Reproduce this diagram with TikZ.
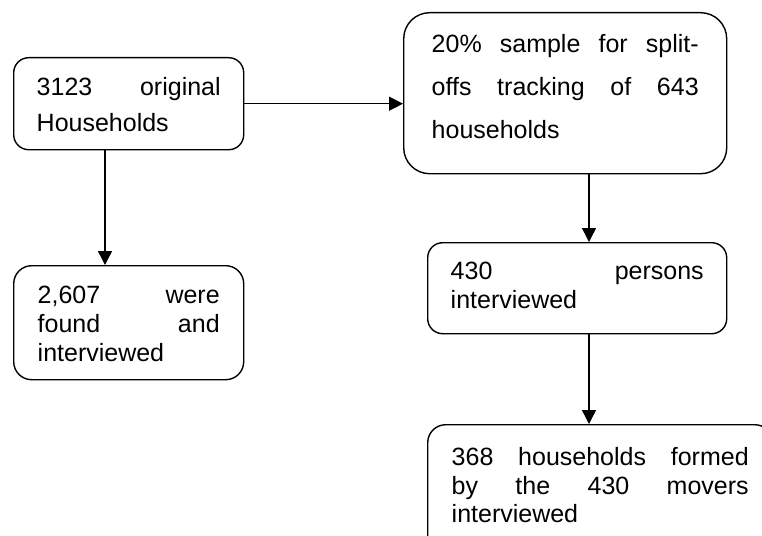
\documentclass[tikz,border=0pt]{standalone}
\usepackage{fontspec}
\setmainfont{Liberation Sans}
\usetikzlibrary{arrows.meta}

% fixed-size text block: width, height, top gap, text
\newcommand{\boxtext}[4]{\parbox[c][#2][t]{#1}{\vspace*{#3}#4}}

\begin{document}
\begin{tikzpicture}[x=1pt,y=-1pt,
  box/.style={draw, line width=1.4pt, anchor=north west, inner xsep=23pt, inner ysep=0pt,
    font=\fontsize{25}{29}\selectfont},
  flow/.style={-{Triangle[length=14pt,width=14pt]}, line width=1.4pt}]
  \useasboundingbox (0,0) rectangle (762,535);
  \clip (0,0) rectangle (762,535);

  \node[box, rounded corners=15pt, font=\fontsize{25}{36}\selectfont] (orig) at (13,57)
    {\boxtext{184pt}{92pt}{20pt}{3123 original\linebreak Households}};
  \node[box, rounded corners=26pt, inner xsep=28pt, font=\fontsize{25}{43}\selectfont] (split) at (403,12)
    {\boxtext{267pt}{161pt}{22pt}{20\% sample for split-\linebreak offs tracking of 643\linebreak households}};
  \node[box, rounded corners=18pt, inner xsep=24pt] (found) at (13,265)
    {\boxtext{182pt}{114pt}{20pt}{2,607 were\linebreak found and\linebreak interviewed}};
  \node[box, rounded corners=15pt] (pers) at (427,242)
    {\boxtext{253pt}{91pt}{19pt}{430 persons\linebreak interviewed}};
  \node[box, rounded corners=18pt, inner xsep=24pt, font=\fontsize{25}{28.5}\selectfont] (hh) at (427,424)
    {\boxtext{297pt}{140pt}{23pt}{368 households formed\linebreak by the 430 movers\linebreak interviewed}};

  % arrow columns
  \coordinate (lcol) at (105,0);
  \coordinate (rcol) at (589,0);

  \draw[flow] (orig.east) -- (orig.east -| split.west);
  \draw[flow] (orig.south -| lcol) -- (found.north -| lcol);
  \draw[flow] (split.south -| rcol) -- (pers.north -| rcol);
  \draw[flow] (pers.south -| rcol) -- (hh.north -| rcol);

\end{tikzpicture}
\end{document}
